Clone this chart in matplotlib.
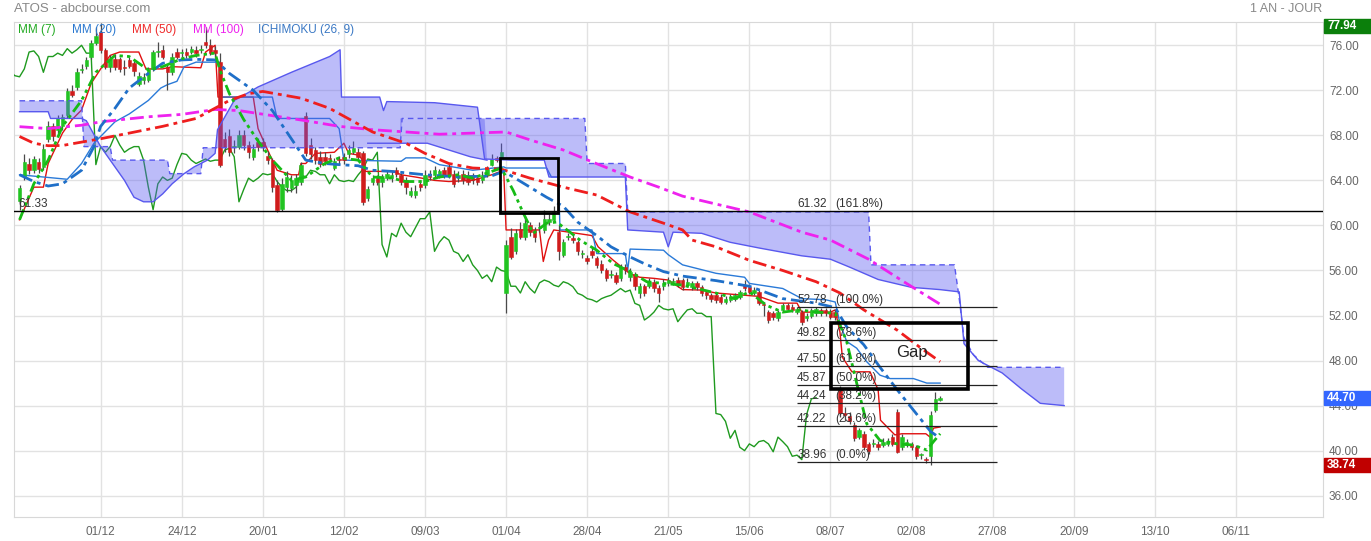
import numpy as np
import matplotlib
matplotlib.use("Agg")
import matplotlib.pyplot as plt
from matplotlib.patches import Rectangle
import matplotlib.transforms as mtransforms

plt.rcParams['font.family'] = ['Liberation Sans', 'DejaVu Sans']

# bar index: 0 = 01/12, one bar per trading day
first_bar = -17
opens = [62.2, 64.3, 65.5, 64.9, 65.6, 65.2, 67.7, 68.8, 68.5, 68.8, 69.8, 71.9, 72.3, 73.8, 74.2, 75.0, 76.2,
         77.2, 75.6, 74.1, 74.8, 74.8, 74.1, 74.7, 74.4, 72.6, 72.9, 72.9, 73.9, 75.4, 75.6, 74.1, 73.6, 75.4, 75.3, 75.4, 75.4, 75.6, 75.6, 76.3, 76.0, 75.6,
         74.5, 67.7, 67.9, 67.0, 67.0, 68.0, 67.1, 66.1, 67.4, 67.4, 66.2, 65.8, 63.6, 61.5, 63.4, 63.3, 63.6, 63.9, 69.7, 67.1, 66.7, 66.1, 66.1, 66.0, 65.1,
         65.9, 66.1, 66.3, 66.55, 66.55, 66.4, 62.4, 63.9, 64.2, 63.9, 64.2, 64.2, 64.9, 64.5, 64.0, 62.7, 62.7, 63.7, 63.6, 64.6, 64.5, 64.5, 64.9, 65.2, 64.6,
         64.2, 64.6, 64.5, 64.5, 64.2, 64.0, 64.5, 65.4, 66.0, 66.0, 54.0, 59.0, 57.7, 59.7, 59.0, 60.0, 59.6, 59.8, 59.6, 60.3, 60.5, 59.4, 57.4, 59.0, 58.9,
         58.5, 57.5, 57.1, 57.7, 57.1, 56.6, 56.0, 55.6, 55.6, 55.3, 56.3, 55.4, 55.7, 54.0, 54.6, 54.6, 55.0, 54.4, 54.6, 54.85, 55.0, 55.15, 55.15, 54.7, 54.56,
         54.85, 54.56, 54.1, 53.8, 53.8, 53.67, 53.2, 53.4, 53.5, 53.67, 54.7, 54.56, 53.97, 54.1, 52.95, 52.3, 52.2, 51.75, 52.5, 52.9, 52.78, 52.3, 52.3, 51.75, 52.0,
         52.2, 52.5, 52.5, 52.35, 52.3, 45.4, 43.3, 43.1, 42.3, 41.2, 41.5, 40.6, 40.6, 40.6, 40.5, 40.6, 41.2, 43.4, 40.35, 40.5, 40.6, 40.35, 39.6, 39.3, 39.5, 43.6, 44.5]
closes = [63.3, 65.6, 64.9, 65.9, 65.0, 66.8, 68.8, 67.9, 69.5, 69.6, 71.9, 71.6, 73.6, 73.9, 74.7, 76.2, 76.8,
          75.6, 74.1, 74.8, 74.1, 73.9, 74.0, 74.2, 73.7, 73.3, 73.2, 73.9, 75.4, 75.5, 75.0, 73.6, 75.0, 75.0, 75.3, 75.1, 75.7, 75.3, 75.6, 76.0, 75.3, 75.3,
          65.4, 67.0, 66.5, 67.0, 68.0, 67.15, 66.5, 66.8, 67.0, 67.0, 65.8, 63.4, 61.4, 63.7, 64.3, 64.0, 64.2, 65.4, 66.4, 66.3, 65.8, 65.5, 65.7, 65.9, 65.7,
          65.8, 65.8, 66.7, 66.85, 66.1, 62.1, 63.2, 64.2, 63.9, 64.2, 64.6, 64.5, 64.6, 63.9, 63.4, 63.1, 63.1, 63.4, 64.5, 64.3, 64.9, 64.8, 64.5, 64.5, 63.7,
          64.5, 64.0, 63.9, 64.0, 63.9, 64.5, 65.0, 65.9, 65.8, 66.5, 58.3, 57.2, 59.3, 59.0, 60.2, 59.4, 59.0, 59.8, 60.6, 60.6, 61.2, 57.7, 58.5, 59.0, 58.7,
          57.7, 57.5, 56.8, 57.4, 56.5, 56.0, 55.3, 55.6, 55.0, 56.3, 56.0, 55.9, 54.6, 54.6, 54.0, 55.0, 54.4, 54.0, 54.9, 55.15, 55.0, 54.7, 54.56, 55.0, 54.85,
          54.56, 53.97, 53.8, 53.5, 53.4, 53.2, 53.5, 53.67, 53.8, 54.1, 54.4, 54.1, 54.26, 53.08, 52.9, 51.6, 51.9, 52.3, 52.9, 52.6, 52.5, 52.6, 51.45, 52.0, 52.5,
          52.6, 52.2, 52.2, 51.9, 51.9, 43.3, 43.2, 42.6, 41.1, 41.8, 40.3, 40.0, 40.6, 40.35, 40.8, 40.9, 40.6, 39.9, 41.2, 40.8, 40.35, 39.5, 39.6, 39.2, 43.2, 44.6, 44.7]
highs = [63.6, 66.3, 66.0, 66.2, 66.0, 67.2, 69.3, 69.1, 69.8, 69.9, 72.2, 72.5, 74.0, 74.3, 75.0, 76.5, 77.6,
         77.94, 75.8, 75.1, 75.2, 75.0, 74.7, 75.0, 74.6, 73.6, 73.5, 74.1, 75.6, 76.3, 76.0, 74.3, 75.3, 75.8, 75.7, 75.8, 75.9, 75.9, 76.0, 77.6, 76.6, 75.9,
         75.3, 68.3, 68.6, 67.6, 68.5, 68.5, 67.5, 67.2, 67.8, 67.8, 66.6, 66.0, 64.0, 64.2, 64.8, 64.5, 64.6, 65.6, 70.1, 67.8, 67.0, 66.6, 66.5, 66.3, 66.0,
         66.2, 66.4, 67.1, 67.5, 66.9, 66.6, 63.5, 64.5, 64.5, 64.6, 64.9, 64.8, 65.2, 64.7, 64.3, 63.4, 63.6, 64.0, 64.9, 64.9, 65.3, 65.0, 65.2, 65.5, 64.9,
         64.8, 64.9, 64.8, 64.7, 64.5, 64.8, 65.3, 66.3, 66.2, 67.3, 58.7, 59.8, 59.7, 60.3, 60.8, 60.3, 59.9, 60.3, 61.4, 61.0, 61.7, 60.0, 58.8, 59.3, 59.2,
         58.7, 57.8, 57.4, 58.0, 57.3, 56.9, 56.2, 56.0, 55.9, 56.6, 56.6, 56.2, 55.9, 54.9, 54.8, 55.3, 55.2, 54.7, 55.2, 55.4, 55.3, 55.4, 55.3, 55.3, 55.1,
         55.1, 54.7, 54.3, 54.0, 54.0, 53.9, 53.7, 53.9, 54.0, 54.3, 55.15, 54.8, 54.5, 54.3, 53.2, 52.5, 52.4, 52.5, 53.1, 53.1, 53.0, 52.8, 52.5, 52.2, 52.7,
         52.8, 52.7, 52.7, 52.6, 52.5, 45.7, 43.9, 43.4, 42.5, 42.0, 41.7, 40.8, 41.0, 40.9, 41.1, 41.1, 41.5, 43.7, 41.5, 41.0, 40.8, 40.5, 39.8, 39.4, 43.5, 45.2, 44.85]
lows = [61.4, 64.0, 64.6, 64.7, 64.7, 64.9, 67.4, 67.5, 68.2, 68.5, 69.5, 71.4, 72.0, 73.5, 73.9, 74.8, 76.0,
        75.3, 73.9, 73.6, 73.8, 73.6, 73.4, 74.0, 73.3, 72.4, 72.6, 72.7, 73.7, 75.0, 74.8, 72.0, 73.4, 74.8, 75.0, 74.9, 75.2, 75.0, 75.3, 75.8, 75.1, 75.0,
        65.2, 66.5, 66.2, 66.4, 66.8, 66.7, 66.0, 65.8, 66.6, 66.6, 65.5, 63.0, 61.2, 61.3, 63.0, 63.0, 62.9, 63.6, 66.2, 65.9, 65.5, 65.2, 65.4, 65.6, 64.9,
        65.5, 65.5, 66.0, 66.3, 65.9, 61.8, 62.2, 63.6, 63.6, 63.4, 64.0, 63.9, 64.3, 63.6, 62.8, 62.5, 62.4, 63.1, 63.3, 64.0, 64.2, 64.2, 64.2, 64.2, 63.4,
        63.9, 63.7, 63.6, 63.7, 63.6, 63.8, 64.3, 65.3, 65.6, 65.9, 52.2, 57.0, 57.5, 58.8, 58.7, 59.1, 58.5, 59.4, 59.3, 60.0, 60.3, 56.9, 57.2, 58.7, 58.4,
        57.4, 57.1, 56.6, 57.1, 56.2, 55.8, 55.1, 55.3, 54.8, 55.1, 55.7, 55.1, 54.3, 53.6, 53.7, 54.4, 54.1, 53.2, 54.3, 54.6, 54.7, 54.5, 54.3, 54.5, 54.3,
        54.3, 53.7, 53.5, 53.2, 53.1, 53.0, 53.0, 53.2, 53.3, 53.5, 54.2, 53.9, 53.8, 52.9, 52.0, 51.3, 51.6, 51.5, 52.3, 52.4, 52.3, 52.1, 51.2, 51.5, 51.8,
        52.0, 52.0, 52.0, 51.7, 51.6, 43.0, 42.6, 42.4, 40.9, 41.0, 40.1, 39.7, 40.3, 40.1, 40.3, 40.4, 40.4, 39.8, 40.1, 40.3, 40.1, 39.3, 39.3, 38.9, 38.74, 43.45, 44.4]

# moving averages (bar, value)
mm7_x = [-17, -14, -11, -8, -4, -1, 3, 6, 10, 13, 17, 20, 24, 25, 27, 30, 33, 36, 40, 43, 47, 50, 54, 57, 61, 64, 68, 71, 75, 78, 82, 84,
         86.5, 88.6, 90.7, 93.5, 95.6, 98.4, 100.5, 104, 107.5, 111, 114.5, 118, 122, 129, 133, 136, 139.6, 143, 146.6, 150, 154,
         156.4, 158.5, 160.6, 163.4, 167, 170.4, 173.2, 174.6, 176]
mm7_y = [60.5, 63.7, 65.8, 68.8, 71.1, 73.6, 75.1, 75.0, 73.8, 74.1, 74.8, 75.1, 75.3, 73.8, 71.7, 69.4, 67.5, 65.8, 64.0, 64.3, 65.5, 66.0, 65.8, 64.3, 64.2, 63.9, 63.9, 64.3, 64.5, 64.2, 64.8, 65.1,
         63.1, 61.1, 59.3, 60.2, 60.3, 59.4, 58.7, 57.8, 56.6, 55.9, 55.0, 54.85, 54.7, 54.0, 53.5, 54.1, 52.9, 52.3, 52.5, 52.3, 52.2,
         49.7, 46.0, 42.4, 40.9, 40.6, 40.5, 40.05, 40.8, 41.5]
mm20_x = [-17, -14, -11, -8, -4, -1.4, 0, 3, 6, 10, 13, 17, 20, 24, 27, 32, 36, 43, 47, 50, 54, 57, 61, 68, 75, 82, 84.5, 86.5, 90, 93.5,
          97, 100, 104, 107, 111, 114, 118, 122, 129, 136, 143, 150, 154, 156.4, 160, 163.4, 167, 170.4, 174, 176]
mm20_y = [64.5, 63.9, 63.5, 63.7, 64.9, 67.0, 68.8, 70.4, 72.2, 73.5, 74.4, 74.7, 74.75, 74.7, 73.5, 72.0, 70.2, 65.8, 65.5, 65.4, 65.3, 64.9, 64.8, 64.5, 64.3, 64.4, 64.8, 64.3, 63.4, 62.5,
          61.7, 60.3, 59.1, 58.1, 57.2, 56.6, 55.9, 55.5, 55.1, 54.6, 53.5, 53.1, 52.7, 51.0, 49.4, 47.4, 45.4, 43.6, 41.7, 41.1]
mm50_x = [-17, -14, -11, -8, -4, 0, 6, 13, 20, 27, 31, 34, 42, 48, 57, 64, 68, 73, 78, 84, 90, 97, 104, 111, 118, 122, 124, 129, 136, 143, 150, 155,
          160, 167, 172, 176]
mm50_y = [67.9, 67.3, 67.08, 67.1, 67.4, 67.7, 68.2, 68.8, 69.5, 71.1, 71.7, 71.9, 71.3, 70.4, 68.3, 67.3, 66.4, 65.5, 65.1, 65.0, 64.2, 63.4, 62.7, 61.2, 60.2, 59.6, 58.7, 58.1, 56.9, 56.0, 55.0, 54.0,
          52.5, 50.7, 49.1, 47.9]
mm100_x = [-17, -11, -4, 0, 10, 17, 24, 29, 43, 50, 57, 64, 71, 78, 85, 90, 97, 103, 111, 117, 122, 126, 136, 147, 153, 161, 168, 176]
mm100_y = [68.77, 68.6, 68.9, 69.2, 69.65, 69.86, 70.3, 70.2, 69.3, 68.8, 68.5, 68.3, 68.1, 68.2, 68.3, 67.6, 66.7, 65.65, 64.3, 63.4, 62.6, 62.2, 61.2, 59.4, 58.7, 57.0, 55.1, 53.0]

# ichimoku lines
tenkan_x = [-17, -14, -12, -11, -8, -6, -4, -2, 0, 2, 4, 8, 9.5, 13, 15, 21, 22, 24, 24.6, 32, 33, 35, 36, 37, 40, 41.5, 42, 43, 45, 49, 51, 52,
            54, 55, 55.5, 61.5, 63, 66, 70, 73, 78, 82, 84.5, 85, 92, 92.8, 93.9, 95, 103, 104.3, 107.5, 111, 113, 116, 119, 122, 126, 129,
            135, 138, 142, 146, 147, 153, 154, 155, 155.5, 157.5, 161.3, 163, 163.5, 166.5, 168, 173, 173.9, 174.6, 176]
tenkan_y = [60.5, 63.4, 63.4, 65.5, 68.2, 69.4, 70.25, 72.6, 73.9, 75.1, 75.4, 75.4, 73.9, 73.9, 74.1, 74.0, 75.4, 76.0, 71.4, 71.4, 68.6, 66.7, 65.8, 64.9, 64.5, 64.5, 65.5, 65.5, 66.4, 66.5, 67.3, 66.4,
            66.25, 65.8, 64.8, 64.8, 64.5, 64.3, 64.0, 63.9, 64.0, 64.5, 64.9, 59.6, 59.6, 56.8, 58.7, 59.6, 59.1, 58.1, 56.9, 55.7, 55.4, 55.3, 55.15, 54.3, 54.26, 54.0,
            53.8, 53.7, 53.1, 53.1, 52.3, 52.3, 52.5, 50.5, 48.3, 47.0, 47.0, 45.4, 42.7, 41.4, 41.5, 41.5, 41.2, 42.0, 42.1]
kijun_x = [-17, -7, -4, -1.4, 3, 6, 10, 12.6, 14, 16, 17.5, 20, 25, 25.5, 36, 37, 48, 50, 51, 63, 64, 68, 71, 78, 84.5, 85, 93.5, 94.5, 96,
           96.3, 103, 104, 110, 110.5, 111, 118, 119, 122, 129, 135, 136, 143, 147, 152, 154, 155, 156.4, 158.5, 160.6, 163.4, 165.5, 170.4, 173.2, 176]
kijun_y = [64.5, 64.1, 65.5, 67.3, 69.2, 69.9, 71.1, 72.2, 72.5, 72.8, 74.1, 74.5, 74.5, 71.4, 71.4, 69.5, 69.5, 68.6, 65.8, 65.7, 66.0, 66.0, 65.4, 64.9, 65.2, 65.1, 65.1, 64.3, 64.3,
           59.6, 59.6, 57.5, 57.5, 56.0, 57.9, 57.8, 57.4, 56.5, 55.75, 55.4, 54.85, 54.4, 53.5, 53.4, 53.2, 51.3, 49.7, 49.1, 47.9, 46.7, 46.4, 46.4, 46.0, 46.0]
span_a_x = [-17, -11, -10.5, -4, -3, 0, 2, 5, 7, 9, 11, 13, 15, 17.5, 19.6, 22.4, 24, 24.5, 28, 31.4, 33, 40, 44, 48, 50.2, 50.5, 58.5, 59.3,
            60, 70, 79, 80.5, 86, 93, 94, 101, 110, 110.5, 118, 119, 120, 126, 132, 138, 147, 153, 157, 163, 170, 176, 180, 181, 184, 189, 193, 197, 202]
span_a_y = [70.1, 70.1, 69.5, 69.5, 69.3, 67.0, 65.8, 64.0, 62.5, 62.1, 62.1, 62.8, 63.7, 64.6, 65.2, 65.8, 66.4, 68.5, 71.1, 71.9, 72.3, 73.6, 74.3, 75.0, 75.6, 71.4, 71.4, 70.2,
            71.0, 70.9, 70.5, 65.9, 65.8, 65.8, 64.3, 64.3, 64.3, 59.6, 59.4, 58.1, 59.4, 59.3, 58.5, 58.0, 57.3, 57.0, 56.3, 55.2, 54.5, 54.3, 54.1, 49.5, 48.0, 46.9, 45.5, 44.2, 44.0]
span_b_x = [-17, -4, -3.5, 2, 2.5, 14, 14.5, 21, 21.5, 62.8, 63.2, 101.5, 102, 110, 110.5, 161, 161.5, 179, 180, 181, 183, 186, 202]
span_b_y = [71.07, 71.07, 67.0, 67.0, 65.8, 65.8, 64.6, 64.6, 66.9, 66.9, 69.5, 69.5, 65.5, 65.5, 61.2, 61.2, 56.5, 56.5, 53.5, 50.0, 48.5, 47.4, 47.4]
# lower solid edge seen under the cloud before 01/04
span_low_x = [56, 68.5, 77.5, 81]
span_low_y = [67.3, 67.3, 66.1, 65.8]

fib_levels = [52.78, 49.82, 47.50, 45.87, 44.24, 42.22, 38.96]
fib_pcts = ['(100.0%)', '(78.6%)', '(61.8%)', '(50.0%)', '(38.2%)', '(23.6%)', '(0.0%)']
ext_level = 61.32

tick_labels = ['01/12', '24/12', '20/01', '12/02', '09/03', '01/04', '28/04', '21/05',
               '15/06', '08/07', '02/08', '27/08', '20/09', '13/10', '06/11']
price_tags = [(77.94, '#0b7f0b'), (44.70, '#3366ff'), (38.74, '#c00000')]

idx = np.arange(first_bar, first_bar + len(closes))
o = np.array(opens); c = np.array(closes); h = np.array(highs); l = np.array(lows)

fig = plt.figure(figsize=(13.71, 5.41), dpi=100)
W, H = 1371.0, 541.0
ax = fig.add_axes([14.3 / W, 1 - 517.3 / H, (1322.7 - 14.3) / W, (517.3 - 22.3) / H])
ax.set_xlim(-18.1, 256.2)
ax.set_ylim(34.08, 78.04)

# cloud
cloud_col = (0.35, 0.35, 0.95)
ax.fill(np.concatenate([span_a_x, span_b_x[::-1]]), np.concatenate([span_a_y, span_b_y[::-1]]),
        facecolor=cloud_col, alpha=0.4, edgecolor='none', zorder=5.5)
ax.fill([62.8, 80.5] + span_low_x[::-1] + [62.8], [69.5, 69.5] + span_low_y[::-1] + [67.3],
        facecolor=cloud_col, alpha=0.4, edgecolor='none', zorder=5.5)
ax.plot(span_a_x, span_a_y, color='#5858ee', lw=1, zorder=5.6)
ax.plot(span_low_x, span_low_y, color='#5858ee', lw=1, zorder=5.6)
ax.plot(span_b_x, span_b_y, color='#5858ee', lw=1, ls=(0, (4, 3)), zorder=5.6)

# chikou, tenkan, kijun
ax.plot(idx - 26, c, color='#1f9a1f', lw=1, zorder=3)
ax.plot(tenkan_x, tenkan_y, color='#e01010', lw=1, zorder=3)
ax.plot(kijun_x, kijun_y, color='#2a7ad8', lw=1, zorder=3)

# candles
up = c >= o
cols = np.where(up, '#22c422', '#d01c1c')
ax.vlines(idx, l, h, color='#4a4a4a', lw=0.9, zorder=4)
body = np.maximum(np.abs(c - o), 0.08)
ax.bar(idx, body, bottom=np.minimum(o, c), width=0.72, color=cols, edgecolor=cols, lw=0.4, zorder=5)

# moving averages
dd = (0, (4, 1.5, 1.2, 1.5, 1.2, 1.5))
dash = (0, (5, 1.8, 1.4, 1.8))
ax.plot(mm100_x, mm100_y, color='#ee22ee', lw=2, ls=dash, zorder=6)
ax.plot(mm50_x, mm50_y, color='#ee1e1e', lw=2, ls=dash, zorder=6)
ax.plot(mm20_x, mm20_y, color='#1f6fc8', lw=2, ls=dash, zorder=6)
ax.plot(mm7_x, mm7_y, color='#16bb16', lw=2, ls=dd, zorder=6)

# fibonacci
ax.axhline(ext_level, color='black', lw=1, zorder=7)
ax.text(-17.2, ext_level + 0.08, '61.33', fontsize=8.5, color='#333', va='bottom', zorder=8)
ax.text(146, ext_level + 0.08, '61.32', fontsize=8.5, color='#333', va='bottom', zorder=8)
ax.text(154, ext_level + 0.08, '(161.8%)', fontsize=8.5, color='#333', va='bottom', zorder=8)
ax.hlines(fib_levels, 146, 188, color='#222', lw=0.9, zorder=7)
for lev, pct in zip(fib_levels, fib_pcts):
    ax.text(146, lev + 0.08, '%.2f' % lev, fontsize=8.5, color='#333', va='bottom', zorder=8)
    ax.text(154, lev + 0.08, pct, fontsize=8.5, color='#333', va='bottom', zorder=8)

ax.add_patch(Rectangle((83.8, 61.13), 12.1, 4.83, fill=False, ec='black', lw=2, zorder=8))
ax.add_patch(Rectangle((153.1, 45.5), 28.7, 5.86, fill=False, ec='black', lw=2.6, zorder=8))
ax.text(170.1, 48.75, 'Gap', fontsize=12, color='#222', ha='center', va='center', zorder=8)

# axes styling
ax.set_xticks(np.arange(len(tick_labels)) * 17)
ax.set_xticklabels(tick_labels)
ax.set_yticks(np.arange(36, 77, 4))
ax.set_yticklabels(['%.2f' % v for v in np.arange(36, 77, 4)])
ax.yaxis.tick_right()
ax.tick_params(axis='both', length=0, labelsize=8.5, labelcolor='#666')
ax.tick_params(axis='x', pad=6)
ax.tick_params(axis='y', pad=4.5)
ax.grid(color='#e2e2e2', lw=1)
ax.set_axisbelow(True)
for s in ax.spines.values():
    s.set_color('#d8d8d8')

trans = mtransforms.blended_transform_factory(ax.transAxes, ax.transData)
x0 = (1324 - 14.3) / 1308.4
x1 = (1371 - 14.3) / 1308.4
for val, col in price_tags:
    yv = min(val, 77.7)
    ax.add_patch(Rectangle((x0, yv - 0.62), x1 - x0, 1.24, transform=trans, color=col, clip_on=False, zorder=9))
    ax.text((1327 - 14.3) / 1308.4, yv, '%.2f' % val, transform=trans, color='white', fontsize=8.5,
            fontweight='bold', va='center', clip_on=False, zorder=10)

# titles and legend
fig.text(14 / W, 1 - 9 / H, 'ATOS - abcbourse.com', fontsize=9.5, color='#888', va='center')
fig.text(1322 / W, 1 - 9 / H, '1 AN - JOUR', fontsize=9, color='#888', va='center', ha='right')
legend = [('MM (7)', '#22aa22', 18), ('MM (20)', '#2a78d0', 72), ('MM (50)', '#ee2a2a', 132),
          ('MM (100)', '#ee22ee', 193), ('ICHIMOKU (26, 9)', '#3a78c4', 258)]
for txt, col, px in legend:
    fig.text(px / W, 1 - 30 / H, txt, fontsize=8.5, color=col, va='center')

fig.savefig('out.png', dpi=100)
